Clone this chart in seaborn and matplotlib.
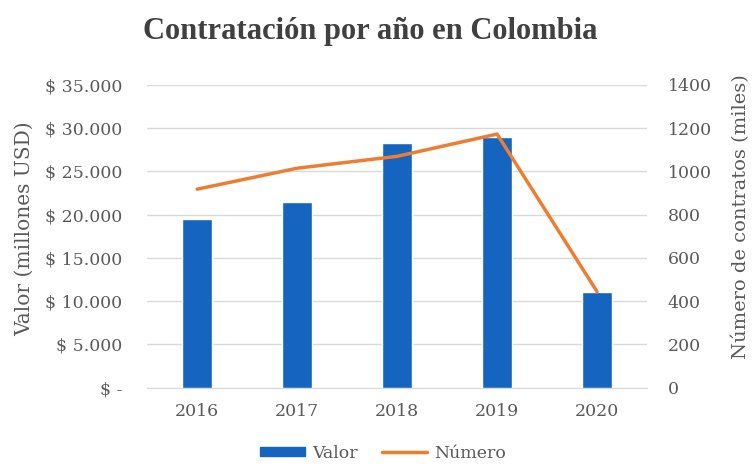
"""
Contratación por año en Colombia: barras (valor) + línea (número de contratos)
"""

import matplotlib
matplotlib.use("Agg")
import matplotlib.pyplot as plt
import matplotlib.ticker as mticker
from matplotlib.patches import Patch
from matplotlib.lines import Line2D
import pandas as pd
import seaborn as sns

# datos
years = ["2016", "2017", "2018", "2019", "2020"]
valor_musd = [19500, 21500, 28300, 29000, 11100]     # millones USD
numero_miles = [918, 1015, 1070, 1173, 444]           # miles de contratos

left_ticks = [0, 5000, 10000, 15000, 20000, 25000, 30000, 35000]
right_ticks = [0, 200, 400, 600, 800, 1000, 1200, 1400]

BLUE = "#1565C0"
ORANGE = "#ED7D31"
GRAY = "#595959"
GRID = "#D9D9D9"

sns.set_style("white")
plt.rcParams['font.family'] = ['DejaVu Serif']

df = pd.DataFrame({"year": years, "valor": valor_musd, "numero": numero_miles})

fig = plt.figure(figsize=(7.55, 4.67), dpi=100)
ax = fig.add_axes([0.195, 0.170, 0.662, 0.648])

sns.barplot(data=df, x="year", y="valor", color=BLUE, width=0.3,
            saturation=1, ax=ax, zorder=3)
ax.set_ylim(0, 35000)
ax.set_yticks(left_ticks)


def fmt_valor(v, pos):
    if v == 0:
        return "$ -"
    return "$ " + f"{int(v):,}".replace(",", ".")


ax.yaxis.set_major_formatter(mticker.FuncFormatter(fmt_valor))
ax.grid(axis="y", color=GRID, linewidth=1, zorder=0)
ax.set_axisbelow(True)
ax.set_xlim(-0.5, 4.5)
ax.set_xlabel("")
ax.set_ylabel("Valor (millones USD)", fontsize=14.5, color=GRAY)
ax.yaxis.set_label_coords(-0.226, 0.526)
for s in ["top", "right", "left"]:
    ax.spines[s].set_visible(False)
ax.spines["bottom"].set_color(GRID)
ax.tick_params(axis="y", length=0, labelsize=12.5, colors=GRAY, pad=18)
ax.tick_params(axis="x", length=0, labelsize=12.5, colors=GRAY, pad=11)

ax2 = ax.twinx()
sns.lineplot(data=df, x="year", y="numero", color=ORANGE, linewidth=2.5,
             ax=ax2, sort=False)
ax2.set_ylim(0, 1400)
ax2.set_yticks(right_ticks)
ax2.set_xlim(-0.5, 4.5)
ax2.set_ylabel("Número de contratos (miles)", fontsize=14, color=GRAY)
ax2.yaxis.set_label_coords(1.17, 0.565)
for s in ["top", "right", "left", "bottom"]:
    ax2.spines[s].set_visible(False)
ax2.tick_params(axis="y", length=0, labelsize=12.5, colors=GRAY, pad=15)

fig.suptitle("Contratación por año en Colombia", x=0.49, y=0.963,
             fontsize=22, fontweight="bold", color="#404040",
             family="Liberation Serif")

handles = [Patch(color=BLUE, label="Valor"),
           Line2D([0], [0], color=ORANGE, linewidth=2.5, label="Número")]
fig.legend(handles=handles, loc="lower center", bbox_to_anchor=(0.507, -0.022),
           ncol=2, frameon=False, fontsize=12.5, labelcolor=GRAY,
           handlelength=2.6, handleheight=0.5, handletextpad=0.4,
           columnspacing=1.4)

fig.savefig("out.png", dpi=100)
